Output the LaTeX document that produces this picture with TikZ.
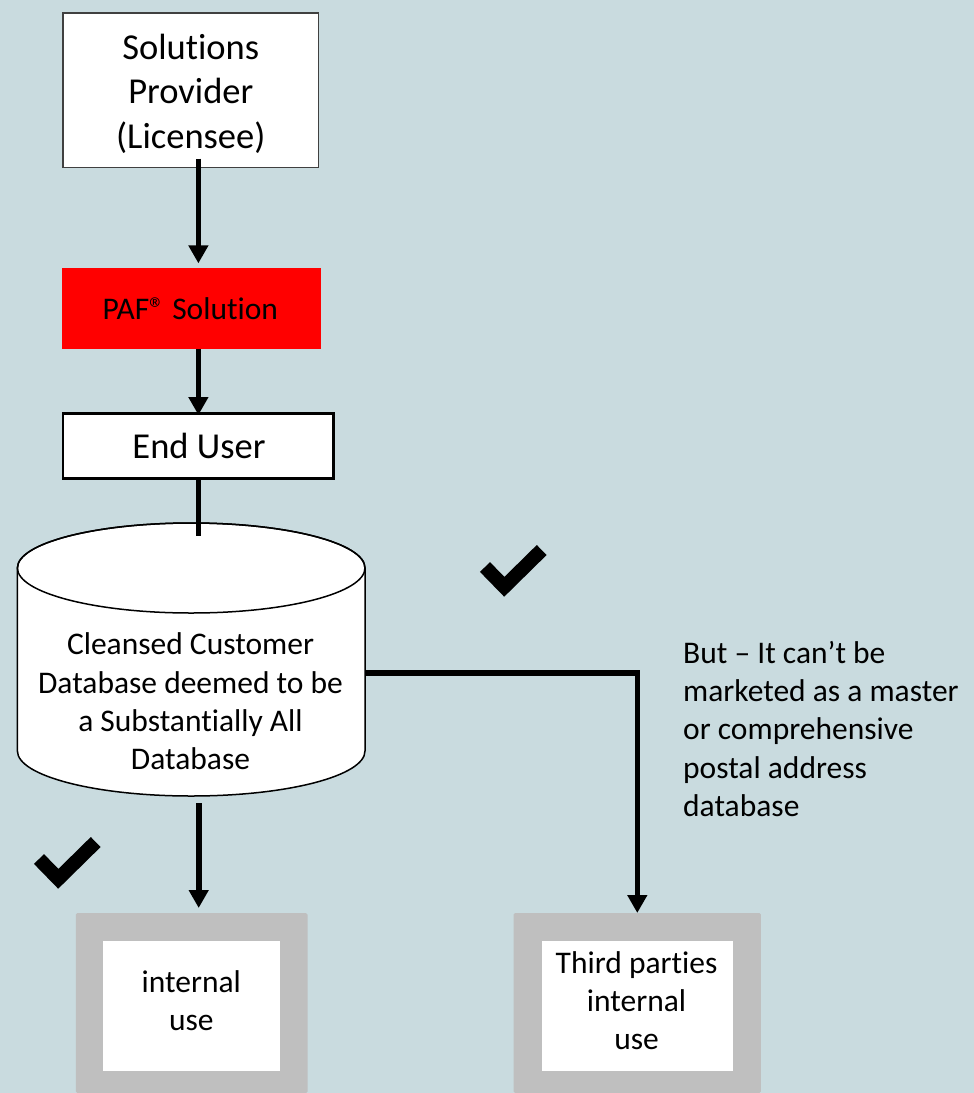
\documentclass[tikz,border=0pt]{standalone}
\usepackage{fontspec}
\setmainfont{Carlito}[Ligatures=NoCommon]
\usetikzlibrary{arrows.meta}
\definecolor{bgc}{RGB}{201,219,223}
\definecolor{greyc}{RGB}{191,191,191}
\definecolor{borderc}{RGB}{64,64,64}
\newcommand\bigfont{\fontsize{36.5}{44.7}\selectfont}
\newcommand\midfont{\fontsize{31.5}{38.2}\selectfont}
\begin{document}
\begin{tikzpicture}[x=1pt,y=1pt,
  conn/.style={line width=5.6pt},
  arr/.style={line width=5.6pt,-{Triangle[width=19pt,length=18pt]}},
  txt/.style={inner sep=0pt,align=center,font=\midfont},
  tick/.style={line width=14pt,line join=miter,line cap=butt},
  shapebox/.style={inner sep=0pt,outer sep=0pt},
]
\fill[bgc] (0,0) rectangle (974,-1093);
\useasboundingbox (0,0) rectangle (974,-1093);

% top box
\node[shapebox,draw=borderc,line width=1.3pt,fill=white,minimum width=255.7pt,minimum height=154.7pt] (sp) at (190.8,-90.3) {};
\node[txt,font=\bigfont] (spt) at (190.8,-93.7) {Solutions\\Provider\\(Licensee)};

% PAF box
\node[shapebox,fill=red,minimum width=258.4pt,minimum height=80.7pt] (paf) at (191.5,-308.7) {};
\node[txt,anchor=base] (paft) at (190.3,-319) {PAF® Solution};

% End user
\node[shapebox,draw=black,line width=2.7pt,fill=white,minimum width=270.6pt,minimum height=65pt] (eu) at (198.4,-446.2) {};
\node[txt,font=\bigfont,anchor=base] (eut) at (199,-458.3) {End User};

% cylinder
\filldraw[fill=white,draw=black,line width=1.5pt] (17.4,-568) -- (17.4,-751)
  arc[start angle=180,end angle=360,x radius=173.8,y radius=45] -- (365,-568)
  arc[start angle=0,end angle=180,x radius=173.8,y radius=45] -- cycle;
\draw[line width=1.5pt] (191.2,-568) ellipse[x radius=173.8,y radius=45];
\node[txt] (db) at (190.5,-701.3) {Cleansed Customer\\Database deemed to be\\a Substantially All\\Database};
\coordinate (dbin) at (199,-536);
\coordinate (dbright) at (365,-673);
\coordinate (dbout) at (198.7,-803);

% bottom boxes
\node[shapebox,fill=greyc,rounded corners=1.5pt,minimum width=231.7pt,minimum height=180pt] (iu) at (191.65,-1003) {};
\node[shapebox,fill=white,minimum width=176.4pt,minimum height=130pt] (iuw) at (191.3,-1006) {};
\node[txt] (iut) at (191.3,-1000.5) {internal\\use};

\node[shapebox,fill=greyc,rounded corners=1.5pt,minimum width=247.2pt,minimum height=180pt] (tp) at (637.3,-1003) {};
\node[shapebox,fill=white,minimum width=191.4pt,minimum height=130pt] (tpw) at (637.3,-1006) {};
\node[txt] (tpt) at (636.6,-1000.5) {Third parties\\internal\\use};

% note
\node[txt,align=left,anchor=west] (note) at (683,-728.8) {But – It can’t be\\marketed as a master\\or comprehensive\\postal address\\database};

% connectors
\draw[arr,shorten <=-9pt,shorten >=5pt] (eu.north |- sp.south) -- (eu.north |- paf.north);
\draw[arr,shorten >=-1.3pt] (eu.north |- paf.south) -- (eu.north);
\draw[conn] (eu.south) -- (eu.south |- dbin);
\draw[arr,shorten >=5pt] (dbout) -- (dbout |- iu.north);
\draw[arr,line join=miter] (dbright) -| (tp.north);

% check marks
\draw[tick] (485,-567) -- (504.3,-586.8) -- (541.7,-550);
\draw[tick] (39,-859) -- (58.3,-878.8) -- (95.7,-842);
\end{tikzpicture}
\end{document}
